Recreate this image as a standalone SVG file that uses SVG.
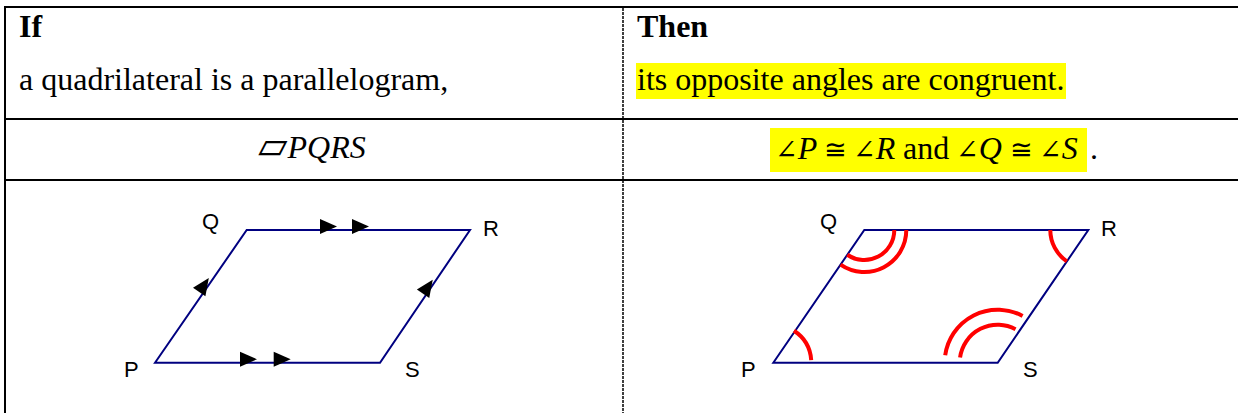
<svg xmlns="http://www.w3.org/2000/svg" width="1238" height="413" viewBox="0 0 1238 413">
<style>
.rule{stroke:#000;stroke-width:2;fill:none}
.dash{stroke:#000;stroke-width:1.5;stroke-dasharray:3,1;fill:none}
.txt{font-family:"Liberation Serif","DejaVu Serif",serif;font-size:32px;fill:#000}
.sym{font-family:"DejaVu Serif","DejaVu Sans",serif;font-size:27px;fill:#000}
.b{font-weight:bold}
.it{font-style:italic;font-family:"Liberation Serif",serif;font-size:32px}
.hl{fill:#ffff00}
.lab{font-family:"Liberation Sans",Arial,sans-serif;font-size:22px;fill:#000}
.side{stroke:#000080;stroke-width:2;fill:none;stroke-linejoin:miter}
.arc{stroke:#ff0000;stroke-width:4;fill:none}
</style>
<defs>
<path id="ah" d="M0,-3.5 L-17,-11 L-17,4 Z" fill="#000"/>
</defs>
<g id="table">
<line class="rule" x1="5" y1="6" x2="5" y2="413"/>
<line class="rule" x1="4" y1="7" x2="1238" y2="7"/>
<line class="rule" x1="4" y1="119" x2="1238" y2="119"/>
<line class="rule" x1="4" y1="180" x2="1238" y2="180"/>
<line class="dash" x1="623" y1="8" x2="623" y2="413"/>
</g>
<g id="if-cell">
<text class="txt b" x="19" y="37">If</text>
<text class="txt" x="19" y="90">a quadrilateral is a parallelogram,</text>
</g>
<g id="then-cell">
<text class="txt b" x="637" y="37">Then</text>
<rect class="hl" x="636" y="63" width="430" height="36"/>
<text class="txt" x="637" y="90">its opposite angles are congruent.</text>
</g>
<g id="given-cell">
<text class="txt" x="312" y="158" text-anchor="middle"><tspan font-family="DejaVu Sans" font-size="38">▱</tspan><tspan class="it">PQRS</tspan></text>
</g>
<g id="concl-cell">
<rect class="hl" x="770" y="128" width="317" height="44"/>
<text class="sym" x="775" y="159">∠<tspan class="it">P</tspan></text>
<text class="sym" x="824" y="159">≅</text>
<text class="sym" x="853" y="159">∠<tspan class="it">R</tspan></text>
<text class="txt" x="903" y="159">and</text>
<text class="sym" x="956" y="159">∠<tspan class="it">Q</tspan></text>
<text class="sym" x="1010" y="159">≅</text>
<text class="sym" x="1039" y="159">∠<tspan class="it">S</tspan></text>
<text class="txt" x="1090" y="159">.</text>
</g>
<g id="fig-left">
<polygon class="side" points="155,362.7 246.7,230 470,230 380,362.7"/>
<text class="lab" x="202" y="229">Q</text>
<text class="lab" x="483" y="236">R</text>
<text class="lab" x="124" y="377">P</text>
<text class="lab" x="405" y="377">S</text>
</g>
<g id="connectors">
<use href="#ah" transform="translate(337,230)"/>
<use href="#ah" transform="translate(369,230)"/>
<use href="#ah" transform="translate(257,362.7)"/>
<use href="#ah" transform="translate(290.7,362.7)"/>
<use href="#ah" transform="translate(211.7,280) rotate(-55.56)"/>
<use href="#ah" transform="translate(435.6,281.7) rotate(-55.56)"/>
</g>
<g id="fig-right">
<polygon class="side" points="773.3,362.7 864.3,230 1088.3,230 997.7,362.7"/>
<path class="arc" d="M811.2,360.05 A38,38 0 0 0 794.0,330.8"/>
<path class="arc" d="M894.3,230 A30,30 0 0 1 847.3,254.75"/>
<path class="arc" d="M906.3,230 A42,42 0 0 1 840.55,264.65"/>
<path class="arc" d="M1050.3,230 A38,38 0 0 0 1066.8,261.3"/>
<path class="arc" d="M960.07,357.41 A38,38 0 0 1 1015.54,329.15"/>
<path class="arc" d="M945.2,355.3 A53,53 0 0 1 1022.6,315.9"/>
<text class="lab" x="820" y="229">Q</text>
<text class="lab" x="1101" y="236">R</text>
<text class="lab" x="741" y="377">P</text>
<text class="lab" x="1023" y="377">S</text>
</g>
</svg>
